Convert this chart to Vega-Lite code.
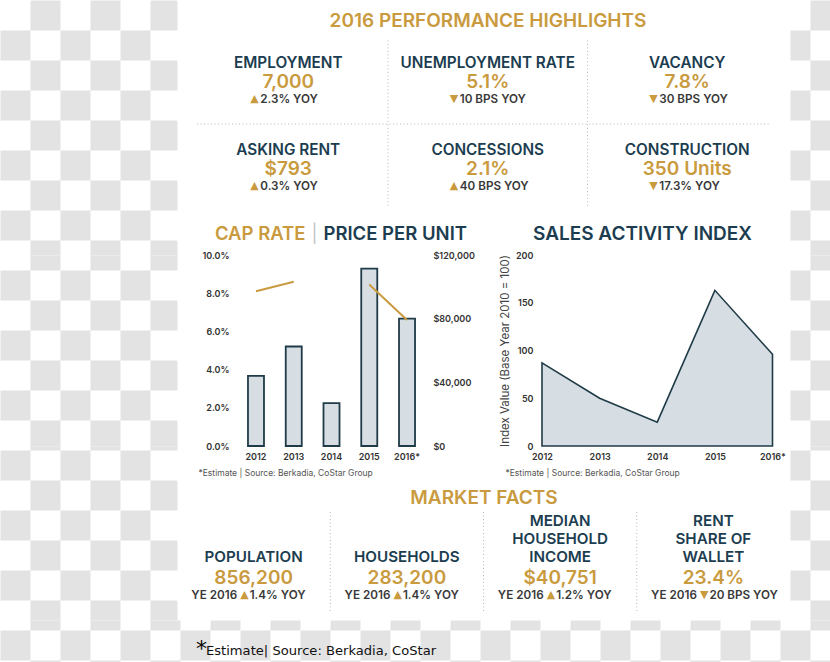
{
  "$schema": "https://vega.github.io/schema/vega-lite/v6.json",
  "background": "white",
  "padding": 0,
  "spacing": 0,
  "bounds": "flush",
  "datasets": {
    "chkL": [
      {"c":1,"r":0},{"c":3,"r":0},{"c":5,"r":0},
      {"c":0,"r":1},{"c":2,"r":1},{"c":4,"r":1},
      {"c":1,"r":2},{"c":3,"r":2},{"c":5,"r":2},
      {"c":0,"r":3},{"c":2,"r":3},{"c":4,"r":3},
      {"c":1,"r":4},{"c":3,"r":4},{"c":5,"r":4},
      {"c":0,"r":5},{"c":2,"r":5},{"c":4,"r":5},
      {"c":1,"r":6},{"c":3,"r":6},{"c":5,"r":6},
      {"c":0,"r":7},{"c":2,"r":7},{"c":4,"r":7},
      {"c":1,"r":8},{"c":3,"r":8},{"c":5,"r":8},
      {"c":0,"r":9},{"c":2,"r":9},{"c":4,"r":9},
      {"c":1,"r":10},{"c":3,"r":10},{"c":5,"r":10},
      {"c":0,"r":11},{"c":2,"r":11},{"c":4,"r":11},
      {"c":1,"r":12},{"c":3,"r":12},{"c":5,"r":12},
      {"c":0,"r":13},{"c":2,"r":13},{"c":4,"r":13},
      {"c":1,"r":14},{"c":3,"r":14},{"c":5,"r":14},
      {"c":0,"r":15},{"c":2,"r":15},{"c":4,"r":15},
      {"c":1,"r":16},{"c":3,"r":16},{"c":5,"r":16},
      {"c":0,"r":17},{"c":2,"r":17},{"c":4,"r":17},
      {"c":1,"r":18},{"c":3,"r":18},{"c":5,"r":18},
      {"c":0,"r":19},{"c":2,"r":19},{"c":4,"r":19},
      {"c":1,"r":20},{"c":3,"r":20},{"c":5,"r":20}
    ],
    "chkR": [
      {"c":27,"r":0},{"c":26,"r":1},{"c":27,"r":2},{"c":26,"r":3},{"c":27,"r":4},
      {"c":26,"r":5},{"c":27,"r":6},{"c":26,"r":7},{"c":27,"r":8},{"c":26,"r":9},
      {"c":27,"r":10},{"c":26,"r":11},{"c":27,"r":12},{"c":26,"r":13},{"c":27,"r":14},
      {"c":26,"r":15},{"c":27,"r":16},{"c":26,"r":17},{"c":27,"r":18},{"c":26,"r":19},
      {"c":27,"r":20}
    ],
    "chkB": [
      {"c":1,"r":20},{"c":3,"r":20},{"c":5,"r":20},{"c":7,"r":20},{"c":9,"r":20},{"c":11,"r":20},{"c":13,"r":20},
      {"c":15,"r":20},{"c":17,"r":20},{"c":19,"r":20},{"c":21,"r":20},{"c":23,"r":20},{"c":25,"r":20},{"c":27,"r":20},
      {"c":0,"r":21},{"c":2,"r":21},{"c":4,"r":21},{"c":6,"r":21},{"c":8,"r":21},{"c":10,"r":21},{"c":12,"r":21},
      {"c":14,"r":21},{"c":16,"r":21},{"c":18,"r":21},{"c":20,"r":21},{"c":22,"r":21},{"c":24,"r":21},{"c":26,"r":21},
      {"c":1,"r":22},{"c":3,"r":22},{"c":5,"r":22},{"c":7,"r":22},{"c":9,"r":22},{"c":11,"r":22},{"c":13,"r":22},
      {"c":15,"r":22},{"c":17,"r":22},{"c":19,"r":22},{"c":21,"r":22},{"c":23,"r":22},{"c":25,"r":22},{"c":27,"r":22}
    ],
    "kpi": [
      {"col":1,"row":1,"name":"EMPLOYMENT","value":"7,000","dir":"▲","chg":"2.3% YOY"},
      {"col":2,"row":1,"name":"UNEMPLOYMENT RATE","value":"5.1%","dir":"▼","chg":"10 BPS YOY"},
      {"col":3,"row":1,"name":"VACANCY","value":"7.8%","dir":"▼","chg":"30 BPS YOY"},
      {"col":1,"row":2,"name":"ASKING RENT","value":"$793","dir":"▲","chg":"0.3% YOY"},
      {"col":2,"row":2,"name":"CONCESSIONS","value":"2.1%","dir":"▲","chg":"40 BPS YOY"},
      {"col":3,"row":2,"name":"CONSTRUCTION","value":"350 Units","dir":"▼","chg":"17.3% YOY"}
    ],
    "capPrice": [
      {"year":"2012","price":44000,"cap":0.081},
      {"year":"2013","price":62500,"cap":0.086},
      {"year":"2014","price":27000,"cap":null},
      {"year":"2015","price":111500,"cap":0.0845},
      {"year":"2016*","price":80000,"cap":0.066}
    ],
    "sales": [
      {"year":"2012","idx":87},
      {"year":"2013","idx":50},
      {"year":"2014","idx":25},
      {"year":"2015","idx":163},
      {"year":"2016*","idx":96}
    ],
    "market": [
      {"col":1,"n1":"","n2":"","n3":"POPULATION","value":"856,200","ye":"YE 2016","dir":"▲","chg":"1.4% YOY"},
      {"col":2,"n1":"","n2":"","n3":"HOUSEHOLDS","value":"283,200","ye":"YE 2016","dir":"▲","chg":"1.4% YOY"},
      {"col":3,"n1":"MEDIAN","n2":"HOUSEHOLD","n3":"INCOME","value":"$40,751","ye":"YE 2016","dir":"▲","chg":"1.2% YOY"},
      {"col":4,"n1":"RENT","n2":"SHARE OF","n3":"WALLET","value":"23.4%","ye":"YE 2016","dir":"▼","chg":"20 BPS YOY"}
    ]
  },
  "vconcat": [
    {
      "width": 830,
      "height": 255,
      "title": {"text": "2016 PERFORMANCE HIGHLIGHTS", "color": "#C99A3E", "fontSize": 19, "fontWeight": 600, "anchor": "middle", "dx": 73, "dy": 30.5, "offset": 0},
      "layer": [
        {
          "data": {"name": "chkL"},
          "transform": [{"filter": "datum.r <= 8"}],
          "mark": {"type": "rect", "fill": "#e3e3e3", "strokeWidth": 0},
          "encoding": {
            "x": {"field": "c", "type": "quantitative", "bin": {"binned": true, "step": 1}, "scale": {"domain": [0, 5.9], "range": [0, 177], "clamp": true, "zero": false, "nice": false}, "axis": null},
            "y": {"field": "r", "type": "quantitative", "bin": {"binned": true, "step": 1}, "scale": {"domain": [0, 8.5], "clamp": true, "reverse": true, "zero": false, "nice": false}, "axis": null}
          }
        },
        {
          "data": {"name": "chkR"},
          "transform": [{"filter": "datum.r <= 8"}],
          "mark": {"type": "rect", "fill": "#e3e3e3", "strokeWidth": 0},
          "encoding": {
            "x": {"field": "c", "type": "quantitative", "bin": {"binned": true, "step": 1}, "scale": {"domain": [26.3333, 27.6667], "range": [790, 830], "clamp": true, "zero": false, "nice": false}, "axis": null},
            "y": {"field": "r", "type": "quantitative", "bin": {"binned": true, "step": 1}, "scale": {"domain": [0, 8.5], "clamp": true, "reverse": true, "zero": false, "nice": false}, "axis": null}
          }
        },
        {
          "data": {"name": "kpi"},
          "encoding": {
            "x": {"field": "col", "type": "ordinal", "scale": {"type": "band", "range": [188.5, 787], "paddingInner": 0, "paddingOuter": 0}, "axis": null},
            "y": {"field": "row", "type": "ordinal", "scale": {"type": "band", "paddingInner": 0, "paddingOuter": 0.4489, "align": 0.4557}, "axis": null}
          },
          "layer": [
            {
              "data": {"values": [{"col": 2}, {"col": 3}]},
              "mark": {"type": "rule", "color": "#b8b8b8", "strokeWidth": 1, "strokeDash": [1, 2.5]},
              "encoding": {
                "x": {"field": "col", "type": "ordinal", "bandPosition": 0},
                "y": {"datum": 1, "type": "ordinal", "bandPosition": 0.05},
                "y2": {"datum": 2, "bandPosition": 0.93}
              }
            },
            {
              "data": {"values": [{"k": 1}]},
              "mark": {"type": "rule", "color": "#b8b8b8", "strokeWidth": 1, "strokeDash": [1, 2.5]},
              "encoding": {
                "x": {"datum": 1, "type": "ordinal", "bandPosition": 0.043},
                "x2": {"datum": 3, "bandPosition": 0.915},
                "y": {"datum": 2, "type": "ordinal", "bandPosition": 0}
              }
            },
            {
              "mark": {"type": "text", "font": "Inter", "fontSize": 15.3, "fontWeight": 600, "color": "#1C3D50", "baseline": "middle", "dy": -17.5},
              "encoding": {"text": {"field": "name"}}
            },
            {
              "mark": {"type": "text", "font": "Inter", "fontSize": 19, "fontWeight": 600, "color": "#C99A3E", "baseline": "middle", "dy": 1.5},
              "encoding": {"text": {"field": "value"}}
            },
            {
              "mark": {"type": "text", "font": "DejaVu Sans", "fontSize": 11, "color": "#C99A3E", "baseline": "middle", "align": "left", "dx": -38, "dy": 18.5},
              "encoding": {"text": {"field": "dir"}}
            },
            {
              "mark": {"type": "text", "font": "Inter", "fontSize": 11.7, "fontWeight": 600, "color": "#383838", "baseline": "middle", "align": "left", "dx": -28, "dy": 18.5},
              "encoding": {"text": {"field": "chg"}}
            }
          ]
        }
      ],
      "resolve": {"scale": {"x": "independent", "y": "independent"}}
    },
    {
      "width": 830,
      "height": 191,
      "title": {"text": "SALES ACTIVITY INDEX", "color": "#1C3D50", "fontSize": 19, "fontWeight": 600, "anchor": "middle", "dx": 227.5, "dy": 19, "offset": 0},
      "layer": [
        {
          "data": {"name": "chkL"},
          "transform": [{"filter": "datum.r >= 8 && datum.r <= 14"}],
          "mark": {"type": "rect", "fill": "#e3e3e3", "strokeWidth": 0},
          "encoding": {
            "x": {"field": "c", "type": "quantitative", "bin": {"binned": true, "step": 1}, "scale": {"domain": [0, 5.9], "range": [0, 177], "clamp": true, "zero": false, "nice": false},
              "axis": {"orient": "top", "labels": false, "domain": false, "ticks": false, "grid": false, "title": "|", "titleX": 314, "titleY": -21, "titleAngle": 0, "titleAlign": "center", "titleBaseline": "middle", "titleFontSize": 18, "titleFontWeight": "normal", "titleColor": "#c5c5c5"}},
            "y": {"field": "r", "type": "quantitative", "bin": {"binned": true, "step": 1}, "scale": {"domain": [8.5, 14.8667], "clamp": true, "reverse": true, "zero": false, "nice": false}, "axis": null}
          }
        },
        {
          "data": {"name": "chkR"},
          "transform": [{"filter": "datum.r >= 8 && datum.r <= 14"}],
          "mark": {"type": "rect", "fill": "#e3e3e3", "strokeWidth": 0},
          "encoding": {
            "x": {"field": "c", "type": "quantitative", "bin": {"binned": true, "step": 1}, "scale": {"domain": [26.3333, 27.6667], "range": [790, 830], "clamp": true, "zero": false, "nice": false}, "axis": null},
            "y": {"field": "r", "type": "quantitative", "bin": {"binned": true, "step": 1}, "scale": {"domain": [8.5, 14.8667], "clamp": true, "reverse": true, "zero": false, "nice": false}, "axis": null}
          }
        },
        {
          "data": {"name": "capPrice"},
          "encoding": {
            "x": {
              "field": "year", "type": "ordinal", "sort": null,
              "scale": {"type": "band", "range": [237.1, 425.9], "paddingInner": 0.576, "paddingOuter": 0.288},
              "axis": {"orient": "bottom", "labelAngle": 0, "labelPadding": 6, "title": "*Estimate | Source: Berkadia, CoStar Group", "titleX": 198, "titleY": 26, "titleAlign": "left", "titleBaseline": "middle", "titleFontSize": 8.5, "titleFontWeight": "normal", "titleColor": "#555555"}
            }
          },
          "layer": [
            {
              "mark": {"type": "bar", "fill": "#D6DEE3", "stroke": "#1F3B47", "strokeWidth": 1.8},
              "encoding": {
                "y": {
                  "field": "price", "type": "quantitative", "scale": {"domain": [0, 120000]},
                  "axis": {"orient": "right", "offset": -405, "values": [0, 40000, 80000, 120000], "format": "$,.0f", "labelPadding": 8, "title": "PRICE PER UNIT", "titleAngle": 0, "titleX": -102, "titleY": -15.5, "titleAlign": "left", "titleBaseline": "alphabetic", "titleFontSize": 18.5, "titleFontWeight": 600, "titleColor": "#1C3D50"}
                }
              }
            },
            {
              "mark": {"type": "line", "color": "#C99A3E", "strokeWidth": 2, "invalid": "break-paths-show-domains"},
              "encoding": {
                "y": {
                  "field": "cap", "type": "quantitative", "scale": {"domain": [0, 0.1]},
                  "axis": {"orient": "left", "offset": -231, "values": [0, 0.02, 0.04, 0.06, 0.08, 0.1], "format": ".1%", "labelPadding": 2, "title": "CAP RATE", "titleAngle": 0, "titleX": 74, "titleY": -15.5, "titleAlign": "right", "titleBaseline": "alphabetic", "titleFontSize": 18.5, "titleFontWeight": 600, "titleColor": "#C99A3E"}
                }
              }
            }
          ],
          "resolve": {"scale": {"y": "independent"}}
        },
        {
          "data": {"name": "sales"},
          "mark": {"type": "area", "fill": "#D6DEE3", "fillOpacity": 1, "stroke": "#1F3B47", "strokeWidth": 1.6},
          "encoding": {
            "x": {
              "field": "year", "type": "ordinal", "sort": null,
              "scale": {"type": "point", "range": [542, 772.5], "padding": 0},
              "axis": {"orient": "bottom", "labelAngle": 0, "labelPadding": 6, "title": "*Estimate | Source: Berkadia, CoStar Group", "titleX": 505, "titleY": 26, "titleAlign": "left", "titleBaseline": "middle", "titleFontSize": 8.5, "titleFontWeight": "normal", "titleColor": "#555555"}
            },
            "y": {
              "field": "idx", "type": "quantitative", "scale": {"domain": [0, 200]},
              "axis": {"orient": "left", "offset": -542, "values": [0, 50, 100, 150, 200], "labelPadding": 9, "title": "Index Value (Base Year 2010 = 100)", "titleX": -37, "titleY": 95.5, "titleAngle": -90, "titleAlign": "center", "titleBaseline": "middle", "titleFontSize": 11.5, "titleFontWeight": "normal", "titleColor": "#444444"}
            }
          }
        }
      ],
      "resolve": {"scale": {"x": "independent", "y": "independent"}}
    },
    {
      "width": 830,
      "height": 174,
      "title": {"text": "MARKET FACTS", "color": "#C99A3E", "fontSize": 19, "fontWeight": 600, "anchor": "middle", "dx": 69, "dy": 62, "offset": 0},
      "layer": [
        {
          "data": {"name": "chkL"},
          "transform": [{"filter": "datum.r >= 14"}],
          "mark": {"type": "rect", "fill": "#e3e3e3", "strokeWidth": 0},
          "encoding": {
            "x": {"field": "c", "type": "quantitative", "bin": {"binned": true, "step": 1}, "scale": {"domain": [0, 5.9], "range": [0, 177], "clamp": true, "zero": false, "nice": false}, "axis": null},
            "y": {"field": "r", "type": "quantitative", "bin": {"binned": true, "step": 1}, "scale": {"domain": [14.8667, 20.6667], "clamp": true, "reverse": true, "zero": false, "nice": false}, "axis": null}
          }
        },
        {
          "data": {"name": "chkR"},
          "transform": [{"filter": "datum.r >= 14"}],
          "mark": {"type": "rect", "fill": "#e3e3e3", "strokeWidth": 0},
          "encoding": {
            "x": {"field": "c", "type": "quantitative", "bin": {"binned": true, "step": 1}, "scale": {"domain": [26.3333, 27.6667], "range": [790, 830], "clamp": true, "zero": false, "nice": false}, "axis": null},
            "y": {"field": "r", "type": "quantitative", "bin": {"binned": true, "step": 1}, "scale": {"domain": [14.8667, 20.6667], "clamp": true, "reverse": true, "zero": false, "nice": false}, "axis": null}
          }
        },
        {
          "data": {"name": "market"},
          "encoding": {
            "x": {"field": "col", "type": "ordinal", "scale": {"type": "band", "range": [177, 790], "paddingInner": 0, "paddingOuter": 0}, "axis": null},
            "y": {"datum": "facts", "type": "nominal", "scale": {"type": "band", "paddingInner": 0, "paddingOuter": 0.37, "align": 0.892}, "axis": null}
          },
          "layer": [
            {
              "data": {"values": [{"col": 2}, {"col": 3}, {"col": 4}]},
              "mark": {"type": "rule", "color": "#b8b8b8", "strokeWidth": 1, "strokeDash": [1, 2.5]},
              "encoding": {
                "x": {"field": "col", "type": "ordinal", "bandPosition": 0},
                "y": {"datum": "facts", "type": "nominal", "bandPosition": 0},
                "y2": {"datum": "facts", "bandPosition": 1}
              }
            },
            {
              "mark": {"type": "text", "font": "Inter", "fontSize": 15.2, "fontWeight": 600, "color": "#1C3D50", "baseline": "middle", "dy": -41},
              "encoding": {"text": {"field": "n1"}}
            },
            {
              "mark": {"type": "text", "font": "Inter", "fontSize": 15.2, "fontWeight": 600, "color": "#1C3D50", "baseline": "middle", "dy": -23},
              "encoding": {"text": {"field": "n2"}}
            },
            {
              "mark": {"type": "text", "font": "Inter", "fontSize": 15.2, "fontWeight": 600, "color": "#1C3D50", "baseline": "middle", "dy": -5},
              "encoding": {"text": {"field": "n3"}}
            },
            {
              "mark": {"type": "text", "font": "Inter", "fontSize": 19, "fontWeight": 600, "color": "#C99A3E", "baseline": "middle", "dy": 15.5},
              "encoding": {"text": {"field": "value"}}
            },
            {
              "mark": {"type": "text", "font": "Inter", "fontSize": 11.7, "fontWeight": 600, "color": "#383838", "baseline": "middle", "align": "right", "dx": -16.5, "dy": 33},
              "encoding": {"text": {"field": "ye"}}
            },
            {
              "mark": {"type": "text", "font": "DejaVu Sans", "fontSize": 11, "color": "#C99A3E", "baseline": "middle", "align": "left", "dx": -13.5, "dy": 33},
              "encoding": {"text": {"field": "dir"}}
            },
            {
              "mark": {"type": "text", "font": "Inter", "fontSize": 11.7, "fontWeight": 600, "color": "#383838", "baseline": "middle", "align": "left", "dx": -4, "dy": 33},
              "encoding": {"text": {"field": "chg"}}
            }
          ]
        }
      ],
      "resolve": {"scale": {"x": "independent", "y": "independent"}}
    },
    {
      "width": 830,
      "height": 42,
      "title": {"text": "Estimate| Source: Berkadia, CoStar", "anchor": "start", "frame": "group", "dx": 206, "dy": 38.5, "offset": 0, "font": "DejaVu Sans", "fontSize": 13.1, "fontWeight": "normal", "color": "#111111"},
      "data": {"name": "chkB"},
      "mark": {"type": "rect", "fill": "#e3e3e3", "strokeWidth": 0},
      "encoding": {
        "x": {"field": "c", "type": "quantitative", "bin": {"binned": true, "step": 1}, "scale": {"domain": [0, 27.6667], "clamp": true, "zero": false, "nice": false},
          "axis": {"orient": "top", "labels": false, "domain": false, "ticks": false, "grid": false, "title": "*", "titleX": 201, "titleY": 28, "titleAngle": 0, "titleAlign": "center", "titleBaseline": "middle", "titleFont": "DejaVu Sans", "titleFontSize": 22, "titleFontWeight": "normal", "titleColor": "#000000"}},
        "y": {"field": "r", "type": "quantitative", "bin": {"binned": true, "step": 1}, "scale": {"domain": [20.6667, 22.0667], "clamp": true, "reverse": true, "zero": false, "nice": false}, "axis": null}
      }
    }
  ],
  "config": {
    "view": {"stroke": null},
    "axis": {"grid": false, "domain": false, "ticks": false, "labelFont": "Inter", "labelFontWeight": 600, "labelFontSize": 9, "labelColor": "#333333", "titleFont": "Inter"},
    "title": {"font": "Inter", "offset": 0},
    "text": {"font": "Inter"}
  }
}
